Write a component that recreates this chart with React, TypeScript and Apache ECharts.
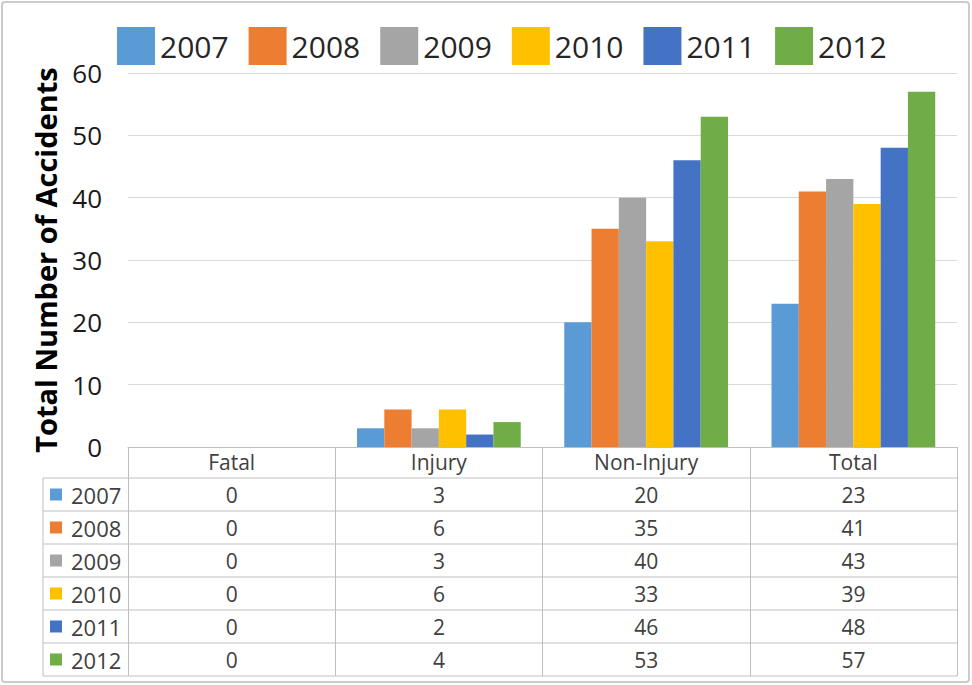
import React, { useEffect, useRef } from "react";
import * as echarts from "echarts";

const categories = ["Fatal", "Injury", "Non-Injury", "Total"];
const years = ["2007", "2008", "2009", "2010", "2011", "2012"];
const values2007 = [0, 3, 20, 23];
const values2008 = [0, 6, 35, 41];
const values2009 = [0, 3, 40, 43];
const values2010 = [0, 6, 33, 39];
const values2011 = [0, 2, 46, 48];
const values2012 = [0, 4, 53, 57];
const seriesValues = [values2007, values2008, values2009, values2010, values2011, values2012];
const colors = ["#5B9BD5", "#ED7D31", "#A5A5A5", "#FFC000", "#4472C4", "#70AD47"];
const yTicks = { min: 0, max: 60, interval: 10 };

const W = 972;
const H = 685;
const gridLeft = 128;
const gridRight = 957;
const gridTop = 73;
const gridBottom = 447;
const headerH = 31;
const rowH = 33;
const tableLeft = 43;
const FONT = "'Open Sans', 'Noto Sans', sans-serif";

export default function App() {
  const ref = useRef<HTMLDivElement>(null);
  useEffect(() => {
    if (!ref.current) return;
    const chart = echarts.init(ref.current, null, { renderer: "svg" });
    const tableBottom = gridBottom + headerH + rowH * years.length;
    const option: any = {
      animation: false,
      backgroundColor: "#ffffff",
      textStyle: { fontFamily: FONT },
      legend: {
        left: 112,
        top: 22,
        itemWidth: 38,
        itemHeight: 38,
        itemGap: 20,
        icon: "rect",
        textStyle: { fontSize: 30, color: "#262626", fontFamily: FONT },
        data: years,
      },
      grid: {
        left: gridLeft,
        right: W - gridRight,
        top: gridTop,
        bottom: H - gridBottom,
        containLabel: false,
      },
      xAxis: {
        type: "category",
        data: categories,
        axisLine: { show: true, lineStyle: { color: "#bfbfbf", width: 1 } },
        axisTick: {
          show: true,
          alignWithLabel: false,
          inside: false,
          length: tableBottom - gridBottom,
          lineStyle: { color: "#bfbfbf", width: 1 },
        },
        axisLabel: { fontSize: 21, color: "#404040", margin: 4, fontFamily: FONT },
      },
      yAxis: {
        type: "value",
        min: yTicks.min,
        max: yTicks.max,
        interval: yTicks.interval,
        name: "Total Number of Accidents",
        nameLocation: "middle",
        nameRotate: 90,
        nameGap: 68,
        nameTextStyle: { fontSize: 29, fontWeight: "bold", color: "#000000", fontFamily: FONT },
        axisLine: { show: false },
        axisTick: { show: false },
        axisLabel: { fontSize: 26, color: "#1a1a1a", margin: 26, fontFamily: FONT },
        splitLine: { lineStyle: { color: "#d9d9d9", width: 1 } },
      },
      series: years.map((y, i) => ({
        name: y,
        type: "bar",
        data: seriesValues[i],
        barGap: "0%",
        barCategoryGap: "21%",
        itemStyle: { color: colors[i] },
      })),
    };
    chart.setOption(option);

    const graphics: any[] = [];
    graphics.push({
      type: "rect",
      shape: { x: 2, y: 2, width: W - 5, height: H - 5, r: 3 },
      style: { fill: "none", stroke: "#cccccc", lineWidth: 2 },
      silent: true,
    });
    for (let r = 0; r <= years.length; r++) {
      const y = gridBottom + headerH + r * rowH;
      graphics.push({
        type: "line",
        shape: { x1: tableLeft, y1: y, x2: gridRight, y2: y },
        style: { stroke: "#bfbfbf", lineWidth: 1 },
        silent: true,
      });
    }
    graphics.push({
      type: "line",
      shape: { x1: tableLeft, y1: gridBottom + headerH, x2: tableLeft, y2: tableBottom },
      style: { stroke: "#bfbfbf", lineWidth: 1 },
      silent: true,
    });
    years.forEach((y, r) => {
      const cy = gridBottom + headerH + r * rowH + rowH / 2;
      graphics.push({
        type: "rect",
        shape: { x: 50, y: cy - 6, width: 12, height: 12 },
        style: { fill: colors[r] },
        silent: true,
      });
      graphics.push({
        type: "text",
        x: 71,
        y: cy,
        style: { text: y, fontSize: 22, fill: "#404040", fontFamily: FONT, verticalAlign: "middle", align: "left" },
        silent: true,
      });
      categories.forEach((c, ci) => {
        const px = chart.convertToPixel({ xAxisIndex: 0 }, c) as number;
        graphics.push({
          type: "text",
          x: px,
          y: cy,
          style: {
            text: String(seriesValues[r][ci]),
            fontSize: 21,
            fill: "#404040",
            fontFamily: FONT,
            align: "center",
            verticalAlign: "middle",
          },
          silent: true,
        });
      });
    });
    chart.setOption({ graphic: graphics });

    return () => chart.dispose();
  }, []);
  return (
    <div
      ref={ref}
      style={{ position: "fixed", left: 0, top: 0, width: W, height: H }}
    />
  );
}
